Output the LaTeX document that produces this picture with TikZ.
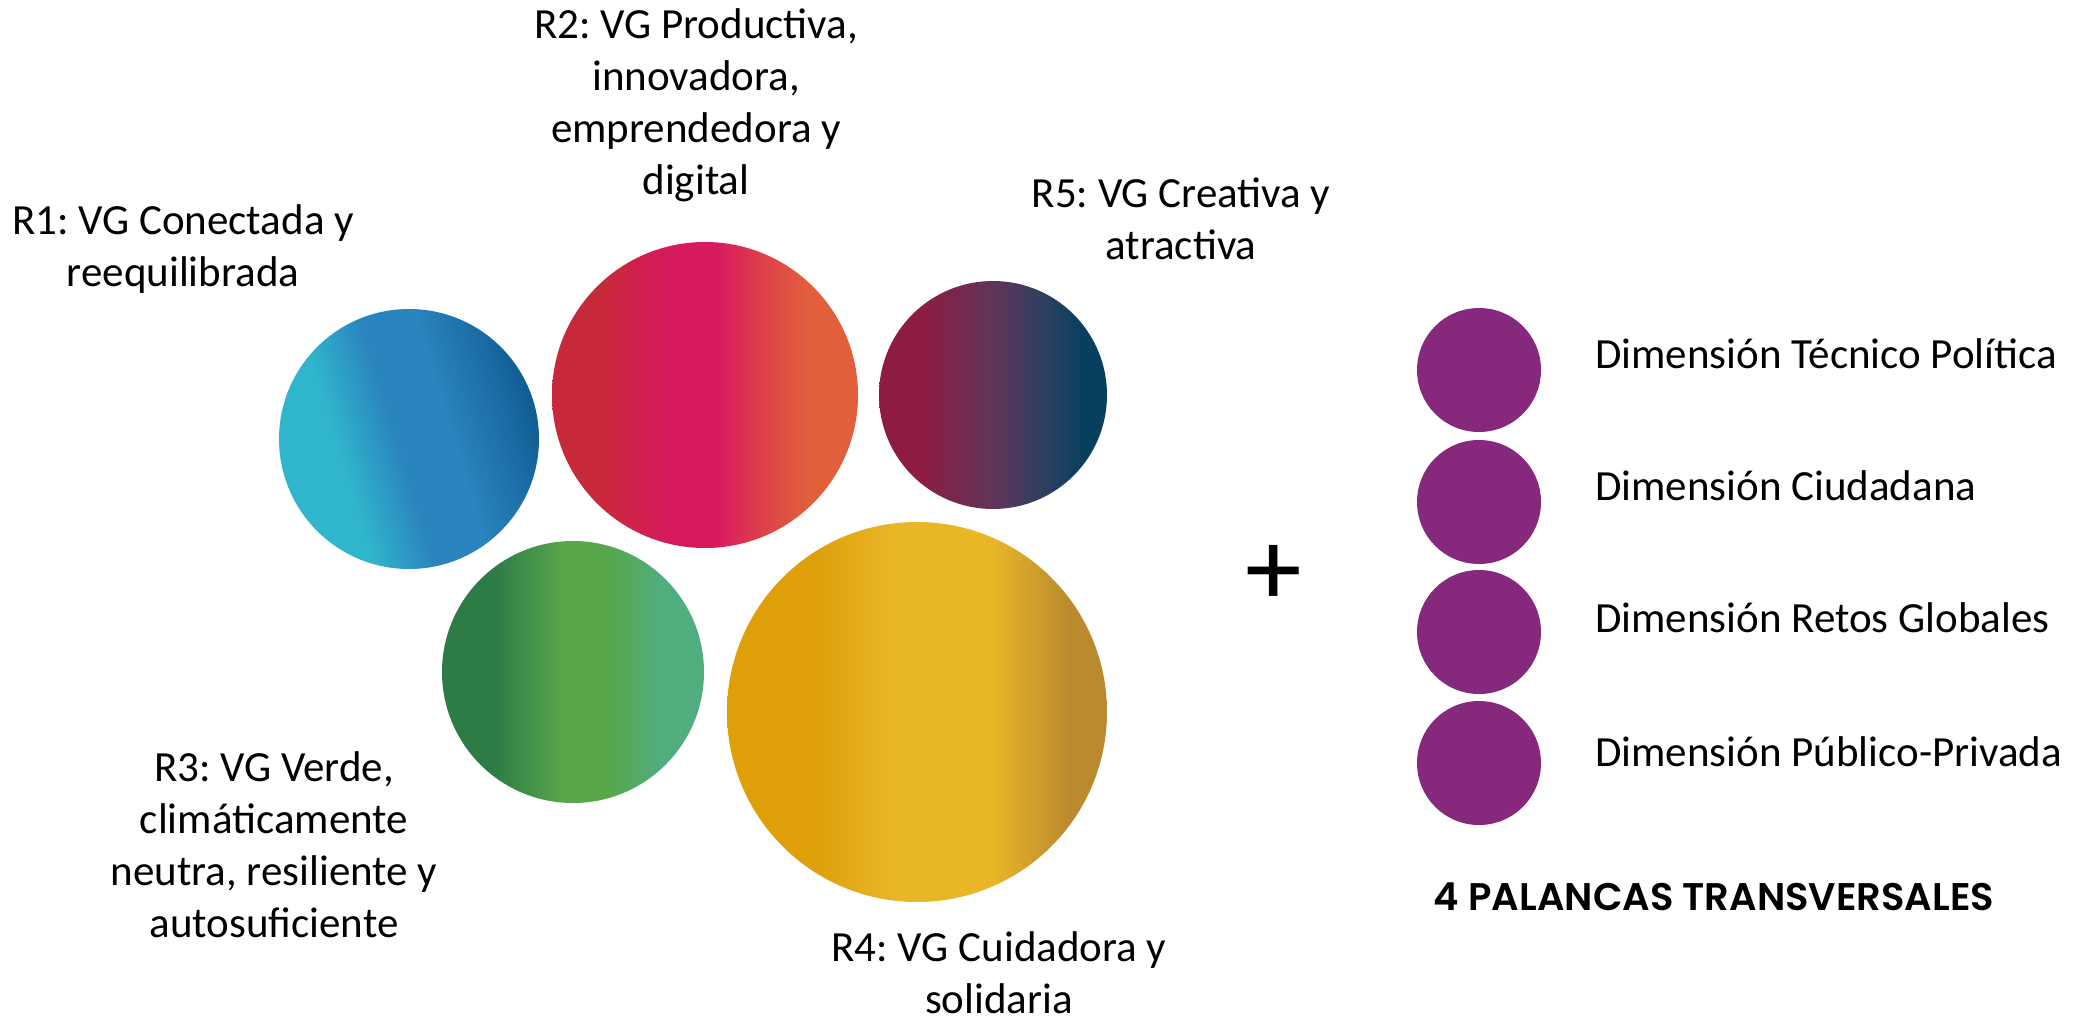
\documentclass[tikz,border=0pt]{standalone}
\usepackage{fontspec}
\setmainfont{Carlito}
\newfontfamily\pop{Poppins}
\newfontfamily\popsb{Poppins}[UprightFont={* SemiBold}]
\definecolor{purp}{HTML}{86297C}
% blue
\definecolor{bA}{HTML}{30B6CC}
\definecolor{bB}{HTML}{2A84BD}
\definecolor{bC}{HTML}{1B6BA4}
\definecolor{bD}{HTML}{0D5A8D}
% red
\definecolor{rA}{HTML}{C8293A}
\definecolor{rB}{HTML}{D71A5E}
\definecolor{rC}{HTML}{DD3F4A}
\definecolor{rD}{HTML}{E1603B}
% r5
\definecolor{mA}{HTML}{8E1C40}
\definecolor{mB}{HTML}{60355A}
\definecolor{mC}{HTML}{2E3F60}
\definecolor{mD}{HTML}{06405E}
% green
\definecolor{gA}{HTML}{2D7C46}
\definecolor{gB}{HTML}{58A64A}
\definecolor{gC}{HTML}{50AE7E}
% yellow
\definecolor{yA}{HTML}{DE9F09}
\definecolor{yB}{HTML}{E8B627}
\definecolor{yC}{HTML}{BA8A2F}
\pgfdeclarehorizontalshading{blueS}{100bp}{color(0bp)=(bA); color(25bp)=(bA); color(36bp)=(bA); color(48bp)=(bB); color(58bp)=(bB); color(69bp)=(bC); color(76bp)=(bD); color(100bp)=(bD)}
\pgfdeclarehorizontalshading{redS}{100bp}{color(0bp)=(rA); color(25bp)=(rA); color(33bp)=(rA); color(44bp)=(rB); color(52bp)=(rB); color(59bp)=(rC); color(67bp)=(rD); color(100bp)=(rD)}
\pgfdeclarehorizontalshading{maroonS}{100bp}{color(0bp)=(mA); color(25bp)=(mA); color(34bp)=(mA); color(50bp)=(mB); color(61bp)=(mC); color(70bp)=(mD); color(100bp)=(mD)}
\pgfdeclarehorizontalshading{greenS}{100bp}{color(0bp)=(gA); color(25bp)=(gA); color(35bp)=(gA); color(48bp)=(gB); color(56bp)=(gB); color(67bp)=(gC); color(100bp)=(gC)}
\pgfdeclarehorizontalshading{yellowS}{100bp}{color(0bp)=(yA); color(25bp)=(yA); color(36bp)=(yA); color(47bp)=(yB); color(60bp)=(yB); color(70bp)=(yC); color(100bp)=(yC)}
\frenchspacing
\begin{document}
\begin{tikzpicture}[x=1pt,y=-1pt,
  lbl/.style={font=\frenchspacing\fontsize{43}{52}\selectfont, align=center, inner sep=0pt},
  dim/.style={font=\fontsize{43}{52}\selectfont, anchor=mid west, inner sep=0pt},
  ball/.style={circle, inner sep=0pt, draw=none},
  lever/.style={ball, fill=purp, minimum size=124pt}]
\useasboundingbox (0,0) rectangle (2077,1017);
% region circles
\node[ball, minimum size=260pt, shade, shading=blueS, shading angle=17] (c1) at (409,439) {};
\node[ball, minimum size=306pt, shade, shading=redS] (c2) at (705,395) {};
\node[ball, minimum size=228pt, shade, shading=maroonS] (c5) at (993,395) {};
\node[ball, minimum size=262pt, shade, shading=greenS] (c3) at (573,672) {};
\node[ball, minimum size=380pt, shade, shading=yellowS] (c4) at (917,712) {};
% labels
\node[lbl] (l1) at (183,249) {R1: VG Conectada y\\reequilibrada};
\node[lbl] (l2) at (696,105) {R2: VG Productiva,\\innovadora,\\emprendedora y\\digital};
\node[lbl] (l5) at (1181,219) {R5: VG Creativa y\\atractiva};
\node[lbl] (l3) at (274,845) {R3: VG Verde,\\climáticamente\\neutra, resiliente y\\autosuficiente};
\node[lbl] (l4) at (999,973) {R4: VG Cuidadora y\\solidaria};
% plus
\node[font=\pop\fontsize{100}{100}\selectfont, inner sep=0pt] (plus) at (1273.5,576) {+};
% levers
\node[lever] (p1) at (1479,370) {};
\node[lever] (p2) at (1479,502) {};
\node[lever] (p3) at (1479,632) {};
\node[lever] (p4) at (1479,763) {};
\node[dim] (d1) at (1595,366) {Dimensión Técnico Política};
\node[dim] (d2) at (1595,498) {Dimensión Ciudadana};
\node[dim] (d3) at (1595,630) {Dimensión Retos Globales};
\node[dim] (d4) at (1595,764) {Dimensión Público-Privada};
\node[font=\popsb\fontsize{38.5}{42}\selectfont, inner sep=0pt] (pal) at (1714,897) {4 PALANCAS TRANSVERSALES};
\end{tikzpicture}
\end{document}
